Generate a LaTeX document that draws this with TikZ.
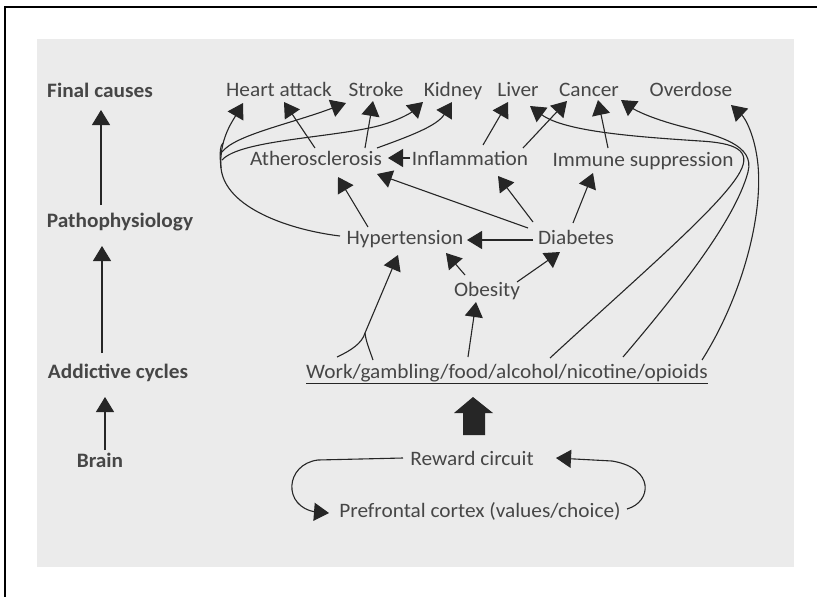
\documentclass[tikz,border=0pt]{standalone}
\usepackage{fontspec}
\setmainfont{Carlito}[FakeStretch=1.04]
\usetikzlibrary{arrows.meta,calc}
\definecolor{paper}{RGB}{235,235,235}
\definecolor{ink}{RGB}{70,70,70}
\definecolor{pen}{RGB}{38,38,38}
\begin{document}
\begin{tikzpicture}[x=1pt,y=-1pt,
  lbl/.style={anchor=base,inner sep=0pt,text=ink,font=\fontsize{20.5}{24}\selectfont},
  hdr/.style={lbl,font=\fontsize{20.5}{24}\selectfont\bfseries},
  con/.style={draw=pen,line width=1.1pt},
  arr/.style={con,-{Triangle[width=18pt,length=15pt]}},
]
\useasboundingbox (0,0) rectangle (817,597);
\fill[paper] (37,39) rectangle (794,567);
\draw[black,line width=1.5pt] (5,597) -- (5,7) -- (817,7);

% left column
\node[hdr] (fc) at (100,97) {Final causes};
\node[hdr] (pp) at (120,227) {Pathophysiology};
\node[hdr] (ac) at (118,378) {Addictive cycles};
\node[hdr] (br) at (100,467) {Brain};

% right side
\node[lbl] (ha) at (279,96) {Heart attack};
\node[lbl] (st) at (376,96) {Stroke};
\node[lbl] (kd) at (453,96) {Kidney};
\node[lbl] (lv) at (518,96) {Liver};
\node[lbl] (ca) at (589,96) {Cancer};
\node[lbl] (od) at (691,96) {Overdose};
\node[lbl] (ath) at (316,165) {Atherosclerosis};
\node[lbl] (inf) at (470,165) {Inflammation};
\node[lbl] (imm) at (643,166) {Immune suppression};
\node[lbl] (hyp) at (405,244) {Hypertension};
\node[lbl] (dia) at (576,244) {Diabetes};
\node[lbl] (obe) at (487,296) {Obesity};
\node[lbl] (work) at (507,378) {Work/gambling/food/alcohol/nicotine/opioids};
\node[lbl] (rew) at (472,465) {Reward circuit};
\node[lbl] (pfc) at (480,517) {Prefrontal cortex (values/choice)};

\draw[con,line width=1pt] ($(work.base west)+(0,5)$) -- ($(work.base east)+(0,5)$);

% left column arrows
\draw[arr] (101,205) -- (101,110);
\draw[arr] (102,353) -- (102,246);
\draw[arr] (105,450) -- (105,397);

% hypertension left trunk and branches
\draw[con] (340,236) .. controls (290,230) and (225,208) .. (221,168) .. controls (219,150) and (221,145) .. (223,143);
\draw[arr] (221,168) .. controls (219,140) and (232,122) .. (243,103);
\draw[arr] (222,152) .. controls (235,135) and (290,124) .. (346,103);
\draw[arr] (222,160) .. controls (240,140) and (330,138) .. (378,126) .. controls (400,120) and (412,112) .. (423,102);

% atherosclerosis up
\draw[arr] (315,148) -- (284,102);
\draw[arr] (365,148) -- (373,101);
\draw[arr] (377,148) .. controls (410,136) and (437,126) .. (452,102);
% inflammation
\draw[arr] (410,158) -- (388,158);
\draw[arr] (483,145) -- (508,102);
\draw[arr] (523,148) -- (567,101);
% immune
\draw[arr] (608,148) -- (598,100);

% long curves
\draw[arr] (550,358) .. controls (640,275) and (722,205) .. (740,172) .. controls (752,150) and (735,143) .. (700,141) .. controls (640,137) and (565,132) .. (530,106);
\draw[arr] (623,357) .. controls (680,290) and (735,220) .. (748,172) .. controls (755,145) and (720,136) .. (680,126) .. controls (650,118) and (635,110) .. (621,100);
\draw[arr] (702,360) .. controls (740,300) and (763,220) .. (758,165) .. controls (755,135) and (745,118) .. (731,105);

% second level
\draw[arr] (368,227) -- (338,177);
\draw[arr] (528,228) -- (377,174);
\draw[arr] (533,222) -- (498,176);
\draw[arr] (573,223) -- (593,173);
\draw[arr] (533,240) -- (467,240);
\draw[arr] (465,275) -- (446,253);
\draw[arr] (517,282) -- (560,252);
\draw[arr] (468,357) -- (476,302);
\draw[con] (337,357) .. controls (352,350) and (362,343) .. (365,333);
\draw[con] (373,360) .. controls (370,351) and (366,342) .. (365,333);
\draw[arr] (365,333) -- (398,255);

% big arrow
\fill[pen] (463,435) -- (463,413) -- (454,413) -- (473,397) -- (493,413) -- (485,413) -- (485,435) -- cycle;

% loops
\draw[arr] (403,458) -- (318,460) .. controls (285,464) and (282,507) .. (316,512) -- (329,513);
\draw[arr] (627,509) .. controls (652,502) and (655,468) .. (612,461) -- (556,458);
\end{tikzpicture}
\end{document}
